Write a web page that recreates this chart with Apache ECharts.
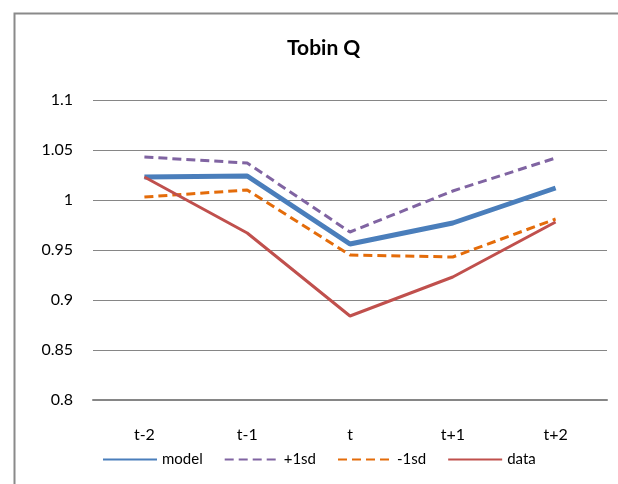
<!DOCTYPE html>
<html>
<head>
<meta charset="utf-8">
<script src="https://cdn.jsdelivr.net/npm/echarts@6/dist/echarts.min.js"></script>
<style>
  html, body { margin: 0; padding: 0; background: #fff; }
  #chart { width: 618px; height: 484px; }
</style>
</head>
<body>
<div id="chart"></div>
<script>
// categories and series values
const categories = ['t-2', 't-1', 't', 't+1', 't+2'];
const model = [1.023, 1.024, 0.956, 0.977, 1.012];
const plus1sd = [1.043, 1.037, 0.968, 1.009, 1.042];
const minus1sd = [1.003, 1.010, 0.945, 0.943, 0.981];
const data = [1.023, 0.967, 0.884, 0.923, 0.978];

const chart = echarts.init(document.getElementById('chart'));

const FONT = 'Lato';

const option = {
  animation: false,
  backgroundColor: '#fff',
  title: {
    text: 'Tobin Q',
    left: 282,
    top: 33,
    textStyle: { fontFamily: FONT, fontSize: 21, fontWeight: 'bold', color: '#000' }
  },
  graphic: [
    {
      type: 'rect',
      left: 12, top: 11,
      shape: { width: 700, height: 600 },
      style: { fill: 'none', stroke: '#8a8a8a', lineWidth: 2 }
    }
  ],
  legend: {
    bottom: 12,
    left: 97,
    itemWidth: 54,
    itemHeight: 10,
    itemGap: 21,
    itemStyle: { opacity: 0 },
    textStyle: { fontFamily: FONT, fontSize: 15, color: '#000' },
    data: ['model', '+1sd', '-1sd', 'data']
  },
  grid: { left: 93, right: 11, top: 100, bottom: 84 },
  xAxis: {
    type: 'category',
    data: categories,
    boundaryGap: true,
    axisLine: { lineStyle: { color: '#868686', width: 2 } },
    axisTick: { show: false },
    axisLabel: { margin: 27, fontFamily: FONT, fontSize: 16, color: '#000' }
  },
  yAxis: {
    type: 'value',
    min: 0.8,
    max: 1.1,
    interval: 0.05,
    axisLine: { show: false },
    axisTick: { show: false },
    splitLine: { lineStyle: { color: '#868686', width: 1 } },
    axisLabel: {
      margin: 20,
      fontFamily: FONT, fontSize: 16, color: '#000',
      formatter: v => String(parseFloat(v.toFixed(2)))
    }
  },
  series: [
    {
      name: 'model', type: 'line', data: model,
      symbol: 'none', color: '#4a7ebb',
      lineStyle: { width: 5, color: '#4a7ebb' }, z: 3
    },
    {
      name: '+1sd', type: 'line', data: plus1sd,
      symbol: 'none', color: '#8064a2',
      lineStyle: { width: 3, type: [9, 5], color: '#8064a2' }, z: 2
    },
    {
      name: '-1sd', type: 'line', data: minus1sd,
      symbol: 'none', color: '#e46c0a',
      lineStyle: { width: 3, type: [9, 5], color: '#e46c0a' }, z: 2
    },
    {
      name: 'data', type: 'line', data: data,
      symbol: 'none', color: '#c0504d',
      lineStyle: { width: 3, color: '#c0504d' }, z: 4
    }
  ]
};

chart.setOption(option);
</script>
</body>
</html>
